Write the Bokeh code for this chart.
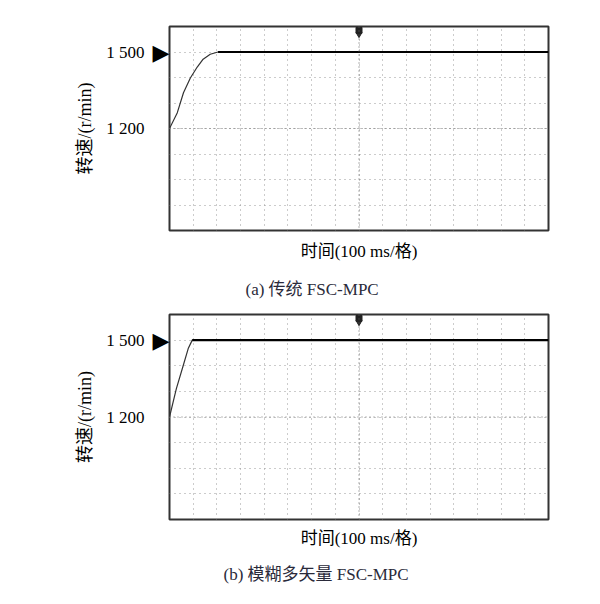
from bokeh.plotting import figure
from bokeh.models import FixedTicker, Span, Title, LinearAxis
from bokeh.layouts import column
from bokeh.embed import file_html
from bokeh.resources import INLINE

# ---- data (time in ms, speed in r/min) ----
time_a = [0, 33, 59, 88, 117, 142, 172, 205, 1600]
speed_a = [1200, 1262, 1340, 1398, 1441, 1472, 1491, 1500, 1500]
time_b = [0, 29, 58, 79, 96, 1600]
speed_b = [1200, 1311, 1401, 1467, 1500, 1500]

setpoint = 1500
trigger_time = [800]
y_ticks = [1200, 1500]
y_tick_labels = ["1 200", "1 500"]
x_grid = [100 * i for i in range(1, 16)]
y_grid = [900 + 100 * i for i in range(7)]

caption_a = "(a)  传统 FSC-MPC"
caption_b = "(b)  模糊多矢量 FSC-MPC"
xlabel = "时间(100 ms/格)"
ylabel = "转速/(r/min)"

FONT = "'Liberation Serif', 'Noto Sans CJK SC'"


def clean(ax):
    ax.axis_line_color = None
    ax.major_tick_line_color = None
    ax.minor_tick_line_color = None
    ax.major_tick_out = 0
    ax.major_tick_in = 0
    ax.minor_tick_out = 0
    ax.minor_tick_in = 0


def panel(t, v, caption, cap_offset, xl_standoff, cap_standoff, height, top, bottom, left, right):
    p = figure(width=584, height=height, x_range=(0, 1600), y_range=(800, 1600),
               output_backend="svg", toolbar_location=None,
               min_border_left=left, min_border_right=right,
               min_border_top=top, min_border_bottom=bottom)
    p.background_fill_color = "white"
    p.border_fill_color = "white"
    p.outline_line_color = "#333333"
    p.outline_line_width = 2

    # grid
    p.xgrid.ticker = FixedTicker(ticks=x_grid)
    p.ygrid.ticker = FixedTicker(ticks=y_grid)
    for g in (p.xgrid, p.ygrid):
        g.grid_line_color = "#999999"
        g.grid_line_dash = "1 4"
        g.grid_line_width = 1
    p.add_layout(Span(location=800, dimension="height", line_color="#666666",
                      line_dash="1 3", line_width=1))
    p.add_layout(Span(location=1200, dimension="width", line_color="#777777",
                      line_dash="1 3", line_width=1))

    # inner left axis: level marker (triangle) at the set-point
    tri = p.yaxis[0]
    tri.ticker = FixedTicker(ticks=[setpoint])
    tri.major_label_overrides = {setpoint: "▶"}
    tri.major_label_text_font = "DejaVu Sans"
    tri.major_label_text_font_size = "22px"
    tri.major_label_text_color = "black"
    tri.major_label_standoff = 0
    clean(tri)

    # outer left axis: numeric tick labels + axis label
    ax = LinearAxis(ticker=FixedTicker(ticks=y_ticks),
                    major_label_overrides=dict(zip(y_ticks, y_tick_labels)))
    ax.major_label_text_font = "Liberation Serif"
    ax.major_label_text_font_size = "17px"
    ax.major_label_text_color = "black"
    ax.major_label_standoff = 5
    ax.axis_label = ylabel
    ax.axis_label_text_font = FONT
    ax.axis_label_text_font_size = "18px"
    ax.axis_label_text_font_style = "normal"
    ax.axis_label_text_color = "black"
    ax.axis_label_standoff = 8
    clean(ax)
    p.add_layout(ax, "left")

    p.xaxis.ticker = FixedTicker(ticks=[])
    p.xaxis.axis_label = xlabel
    p.xaxis.axis_label_text_font = FONT
    p.xaxis.axis_label_text_font_size = "17px"
    p.xaxis.axis_label_text_font_style = "normal"
    p.xaxis.axis_label_text_color = "black"
    p.xaxis.axis_label_standoff = xl_standoff
    clean(p.xaxis[0])

    # traces
    p.line(t, v, line_color="#333333", line_width=1.2)
    steady = [i for i, val in enumerate(v) if val >= setpoint]
    p.line([t[i] for i in steady], [v[i] for i in steady],
           line_color="black", line_width=2.2)

    # trigger marker
    p.scatter(trigger_time, [1585], marker="square", size=6, color="#222222")
    p.scatter(trigger_time, [1570], marker="inverted_triangle", size=6, color="#222222")

    p.add_layout(Title(text=caption, align="left", offset=cap_offset,
                       text_font=FONT, text_font_size="17px",
                       text_font_style="normal", text_color="#2a2a3a",
                       standoff=cap_standoff), "below")
    return p


p1 = panel(time_a, speed_a, caption_a, 76, 11, 28, 312, 26, 80, 169, 33)
p2 = panel(time_b, speed_b, caption_b, 54, 9, 25, 287, 2, 80, 166, 36)

layout = column(p1, p2)
open("out.html", "w").write(file_html(layout, INLINE))
